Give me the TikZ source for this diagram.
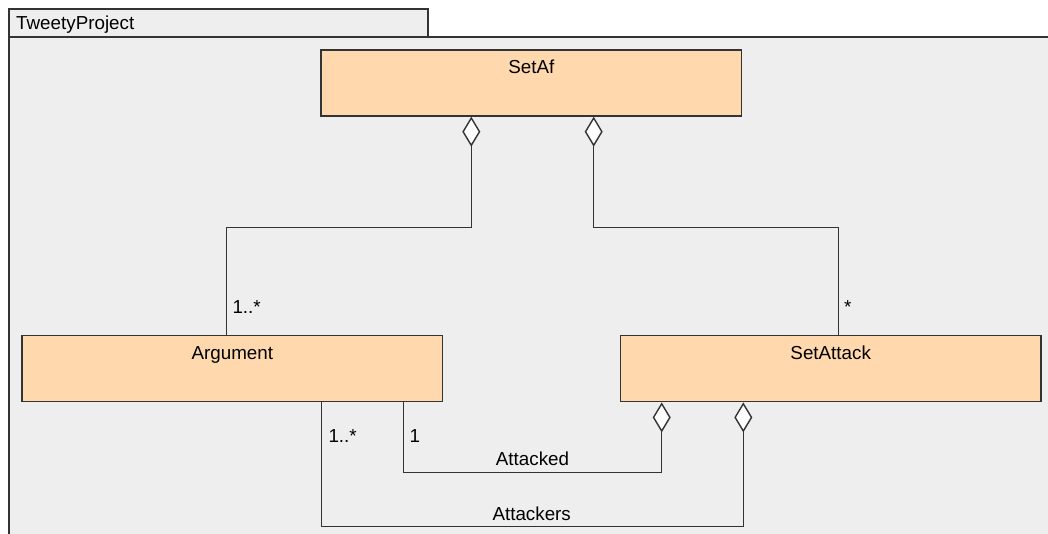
\documentclass[tikz,border=0pt]{standalone}
\usepackage{fontspec}
\setmainfont{Liberation Sans}
\usetikzlibrary{arrows.meta}
\definecolor{pkgfill}{HTML}{EEEEEE}
\definecolor{classfill}{HTML}{FFD9AD}
\definecolor{ink}{HTML}{333333}
\tikzset{
  umlclass/.style={draw=ink, line width=1.4pt, fill=classfill, rectangle,
    inner sep=0pt, minimum width=420.7pt, minimum height=66pt},
  classname/.style={anchor=base, inner sep=0pt, font=\fontsize{18.8}{22}\selectfont},
  lbl/.style={anchor=base west, inner sep=0pt, font=\fontsize{18.8}{22}\selectfont},
  agg/.style={draw=ink, line width=1.4pt,
    arrows={Diamond[fill=white, length=30pt, width=18pt, line width=1.4pt]-}},
}
\begin{document}
\begin{tikzpicture}[x=1pt, y=-1pt]
  \useasboundingbox (0,0) rectangle (1048,534);
  \clip (0,0) rectangle (1048,534);
  \fill[white] (0,0) rectangle (1048,534);

  % package frame: name tab and body
  \draw[ink, line width=1.5pt, fill=pkgfill] (9,37) rectangle (1070,560);
  \draw[ink, line width=1.5pt, fill=pkgfill] (9,9) rectangle (428,37);
  \node[lbl] (pkgname) at (16,30) {TweetyProject};

  % classes
  \node[umlclass] (setaf) at (531.3,83) {};
  \node[classname] (setafname) at ([yshift=-24pt]setaf.north) {SetAf};

  \node[umlclass] (arg) at (232.3,368.7) {};
  \node[classname] (argname) at ([yshift=-24.3pt]arg.north) {Argument};

  \node[umlclass] (setatt) at (830.7,368.7) {};
  \node[classname] (setattname) at ([yshift=-24.3pt]setatt.north) {SetAttack};

  % aggregations of SetAf
  \draw[agg] ([xshift=-60pt]setaf.south) -- ++(0,110.7) -| ([xshift=-6pt]arg.north);
  \draw[agg] ([xshift=62.4pt]setaf.south) -- ++(0,110.7) -| ([xshift=8pt]setatt.north);

  % aggregations of SetAttack
  \draw[agg] ([xshift=-169pt]setatt.south) -- ++(0,70) -| ([xshift=171pt]arg.south);
  \draw[agg] ([xshift=-87.4pt]setatt.south) -- ++(0,124.3) -| ([xshift=89.4pt]arg.south);

  % multiplicities and role names
  \node[lbl] (m1) at (232.3,313.3) {1..*};
  \node[lbl] (m2) at (844,313.3) {*};
  \node[lbl] (m3) at (328.3,442.3) {1..*};
  \node[lbl] (m4) at (409.3,442.3) {1};
  \node[lbl] (r1) at (495.7,465.7) {Attacked};
  \node[lbl] (r2) at (492.3,520) {Attackers};
\end{tikzpicture}
\end{document}
